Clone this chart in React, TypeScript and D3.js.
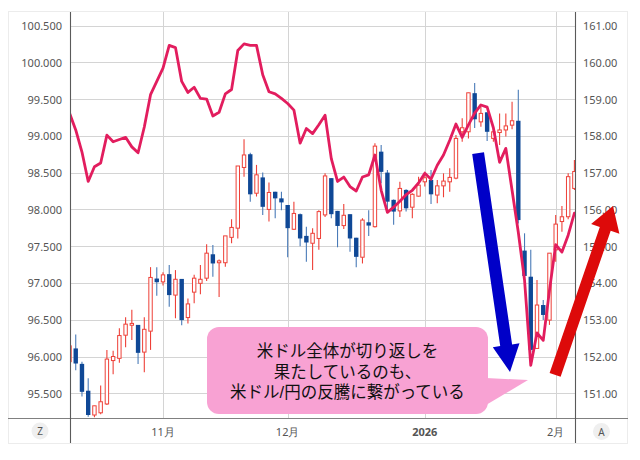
import React from "react";
import * as d3 from "d3";

// ---- data ----
const startDate = "2025-10-13";
const holidays = ["2025-12-25", "2026-01-01"];

// USD/JPY daily candles (right axis)
const open = [151.86,152.22,151.80,151.07,150.41,150.47,150.71,151.89,151.95,152.58,152.85,152.86,152.12,152.69,154.12,154.03,154.24,153.67,154.11,153.06,153.75,153.99,154.13,154.78,154.55,154.55,155.24,155.49,157.14,157.50,156.44,156.87,156.00,156.48,156.30,156.12,155.46,155.87,155.28,155.08,155.21,155.85,156.85,155.96,155.56,155.87,155.23,154.70,155.65,155.53,157.57,157.00,156.26,155.96,156.53,156.06,156.36,156.75,156.80,156.39,156.64,156.75,156.85,158.11,158.11,159.16,158.38,158.64,157.93,158.09,158.16,158.29,158.41,154.88,154.17,152.22,153.40,152.99,154.90,155.67,155.80,156.57];
const high = [152.45,152.60,151.86,151.41,150.66,151.21,152.18,152.16,152.77,153.07,153.27,152.86,153.07,154.43,154.43,154.29,154.49,154.35,154.11,153.58,154.22,154.49,155.05,155.03,154.64,155.28,155.73,157.18,157.91,157.54,157.21,157.00,156.73,156.48,156.48,156.12,156.21,155.89,155.53,155.49,155.98,156.98,156.85,155.96,156.15,155.87,155.23,155.76,155.98,157.80,157.75,157.07,156.27,156.75,156.55,156.44,156.89,157.03,157.07,156.80,156.98,157.12,158.02,158.48,159.17,159.44,158.79,158.64,158.29,158.61,158.61,158.93,159.25,155.35,154.90,154.08,153.54,154.81,155.85,156.09,156.98,157.34];
const low = [151.72,151.63,150.91,150.36,150.35,150.43,150.68,151.52,151.83,152.25,152.45,151.80,151.57,152.18,153.65,153.93,153.35,153.04,152.85,152.90,153.45,153.69,154.05,154.17,153.62,154.44,155.08,155.21,156.89,156.21,156.35,155.85,155.67,155.76,155.98,154.70,155.44,155.00,154.58,154.35,154.90,155.79,155.76,154.97,155.47,154.85,154.43,154.53,155.28,155.51,156.71,155.98,155.58,155.79,155.94,155.76,156.35,156.62,156.15,156.17,156.33,156.48,156.82,157.84,157.93,158.21,158.25,157.86,157.84,157.75,157.98,158.18,155.62,154.13,152.13,152.22,152.99,152.86,154.58,155.39,155.73,156.53];
const close = [152.29,151.81,151.04,150.41,150.66,150.77,151.93,152.00,152.57,152.88,152.90,152.10,152.74,154.15,154.02,154.22,153.67,154.10,152.99,153.43,154.13,154.10,154.81,154.53,154.60,155.28,155.51,157.18,157.48,156.41,156.94,156.07,156.46,156.30,156.19,155.49,155.89,155.21,155.10,155.35,155.94,156.91,155.87,155.55,155.84,155.21,154.71,155.71,155.56,157.72,157.02,156.21,155.94,156.57,156.03,156.41,156.66,156.86,156.41,156.64,156.77,156.87,157.93,158.22,159.17,158.45,158.61,158.11,158.11,158.16,158.27,158.41,155.71,154.19,152.18,153.40,153.13,154.81,155.60,155.80,156.89,157.03];

// US dollar index (left axis)
const dxy = [99.31,99.08,98.78,98.38,98.58,98.63,99.01,98.92,98.95,98.98,98.85,98.77,99.12,99.56,99.74,99.92,100.23,100.20,99.74,99.59,99.66,99.51,99.50,99.27,99.32,99.57,99.63,100.16,100.25,100.23,100.23,99.83,99.60,99.57,99.51,99.44,99.35,98.90,99.10,99.03,99.15,99.28,98.69,98.38,98.44,98.31,98.25,98.44,98.47,98.74,98.26,97.96,98.03,98.11,98.20,98.26,98.36,98.49,98.41,98.60,98.74,98.94,99.16,98.98,99.15,99.31,99.42,99.39,99.11,98.64,98.83,98.26,97.69,97.04,95.88,96.32,96.22,96.90,97.52,97.42,97.65,97.95];

const leftTicks = [95.5, 96, 96.5, 97, 97.5, 98, 98.5, 99, 99.5, 100, 100.5];
const rightTicks = [151, 152, 153, 154, 155, 156, 157, 158, 159, 160, 161];

const calloutLines = ["米ドル全体が切り返しを", "果たしているのも、", "米ドル/円の反騰に繋がっている"];

// ---- helpers ----
function tradingDays(start: string, n: number, hol: string[]) {
  const out: Date[] = [];
  let d = new Date(start + "T00:00:00Z");
  while (out.length < n) {
    const wd = d.getUTCDay();
    const iso = d.toISOString().slice(0, 10);
    if (wd !== 0 && wd !== 6 && !hol.includes(iso)) out.push(new Date(d));
    d = new Date(d.getTime() + 86400000);
  }
  return out;
}

function arrowPath(s: [number, number], t: [number, number], w: number, hl: number, hw: number) {
  const dx = t[0] - s[0], dy = t[1] - s[1];
  const len = Math.hypot(dx, dy);
  const ux = dx / len, uy = dy / len;
  const nx = -uy, ny = ux;
  const bx = t[0] - ux * hl, by = t[1] - uy * hl;
  const pts = [
    [s[0] + nx * w, s[1] + ny * w],
    [bx + nx * w, by + ny * w],
    [bx + nx * hw, by + ny * hw],
    [t[0], t[1]],
    [bx - nx * hw, by - ny * hw],
    [bx - nx * w, by - ny * w],
    [s[0] - nx * w, s[1] - ny * w],
  ];
  return "M" + pts.map((p) => p[0].toFixed(1) + "," + p[1].toFixed(1)).join("L") + "Z";
}

export default function App() {
  const W = 640, H = 460;
  const frame = { l: 8, r: 628, t: 12, b: 443 };
  const plot = { l: 70, r: 575, t: 12, b: 418 };
  const n = open.length;
  const dates = tradingDays(startDate, n, holidays);

  const x = d3.scaleLinear().domain([0, n - 1]).range([69.5, 574.4]);
  const yR = d3.scaleLinear().domain([151, 161]).range([393.3, 25.5]);
  const yL = d3.scaleLinear().domain([95.5, 100.5]).range([393.3, 25.5]);

  const monthTicks: { i: number; label: string; bold: boolean }[] = [];
  dates.forEach((d, i) => {
    if (i === 0) return;
    if (d.getUTCMonth() !== dates[i - 1].getUTCMonth()) {
      const m = d.getUTCMonth();
      monthTicks.push({ i, label: m === 0 ? String(d.getUTCFullYear()) : `${m + 1}月`, bold: m === 0 });
    }
  });

  const line = d3.line<number>().x((_, i) => x(i)).y((v) => yL(v));
  const fmtL = d3.format(".3f");
  const fmtR = d3.format(".2f");

  const RED = "#ee4038";
  const BLUE = "#0f4896";
  const BLUE_WICK = "#4a7bb8";
  const PINK_LINE = "#e21d5e";
  const bw = 4.4;

  const font = "'Noto Sans', 'Open Sans', sans-serif";
  const jp = "'Liberation Sans', 'Noto Sans CJK JP', sans-serif";

  const blueArrow = arrowPath([x(65.55), yR(157.53)], [x(70.67), yR(151.58)], 6, 27, 13.5);
  const redArrow = arrowPath([x(77.9), yR(151.5)], [x(87.2), yR(156.09)], 5.8, 24, 15);

  const box = { l: 207, r: 488, t: 327, b: 414 };
  const cx = (box.l + box.r) / 2;

  return (
    <svg width={W} height={H} style={{ position: "absolute", left: 0, top: 0, background: "#fff" }}>
      <defs>
        <clipPath id="plotclip">
          <rect x={plot.l} y={plot.t} width={plot.r - plot.l} height={plot.b - plot.t} />
        </clipPath>
      </defs>
      <rect x={frame.l + 0.5} y={frame.t - 0.5} width={frame.r - frame.l - 1} height={frame.b - frame.t + 1} fill="#fff" stroke="#ececec" />

      {/* horizontal grid */}
      {leftTicks.map((t) => (
        <line key={"g" + t} x1={plot.l} x2={plot.r} y1={Math.round(yL(t)) + 0.5} y2={Math.round(yL(t)) + 0.5} stroke="#d4d4d4" />
      ))}
      {/* vertical grid */}
      {monthTicks.map((m) => (
        <line key={"v" + m.i} x1={Math.round(x(m.i)) + 0.5} x2={Math.round(x(m.i)) + 0.5} y1={plot.t} y2={plot.b} stroke="#d4d4d4" />
      ))}

      <g clipPath="url(#plotclip)">
        {/* candles */}
        {open.map((o, i) => {
          const c = close[i];
          const up = c >= o;
          const cxp = x(i);
          const top = yR(Math.max(o, c));
          const bot = yR(Math.min(o, c));
          const h = Math.max(1, bot - top);
          return (
            <g key={"c" + i}>
              <line x1={cxp} x2={cxp} y1={yR(high[i])} y2={yR(low[i])} stroke={up ? RED : BLUE_WICK} strokeWidth={1.1} />
              {up ? (
                <rect x={cxp - bw / 2 + 0.5} y={top} width={bw - 1} height={h} fill="#fff" stroke={RED} strokeWidth={1} />
              ) : (
                <rect x={cxp - bw / 2} y={top} width={bw} height={h} fill={BLUE} />
              )}
            </g>
          );
        })}
        {/* dollar index line */}
        <path d={line(dxy) || ""} fill="none" stroke={PINK_LINE} strokeWidth={2.8} strokeLinejoin="round" strokeLinecap="round" />
      </g>

      {/* axes lines */}
      <line x1={frame.l} x2={frame.r} y1={plot.b + 0.5} y2={plot.b + 0.5} stroke="#808080" strokeWidth={1.2} />
      <line x1={plot.l + 0.5} x2={plot.l + 0.5} y1={frame.t} y2={frame.b} stroke="#5a5a5a" strokeWidth={1.1} />
      <line x1={plot.r + 0.5} x2={plot.r + 0.5} y1={frame.t} y2={frame.b} stroke="#5a5a5a" strokeWidth={1.1} />

      {/* left axis labels */}
      {leftTicks.map((t) => (
        <text key={"l" + t} x={62} y={yL(t)} dominantBaseline="central" textAnchor="end" fontFamily={font} fontSize={11} fill="#555">
          {fmtL(t)}
        </text>
      ))}
      {/* right axis labels */}
      {rightTicks.map((t) => (
        <text key={"r" + t} x={583} y={yR(t)} dominantBaseline="central" textAnchor="start" fontFamily={font} fontSize={11} fill="#555">
          {fmtR(t)}
        </text>
      ))}
      {/* x axis labels */}
      {monthTicks.map((m) => (
        <text key={"x" + m.i} x={x(m.i)} y={431} dominantBaseline="central" textAnchor="middle" fontFamily={font} fontSize={11} fontWeight={m.bold ? 700 : 400} fill="#555">
          {m.label}
        </text>
      ))}

      {/* Z / A buttons */}
      <circle cx={40} cy={431} r={8.5} fill="#efefef" />
      <text x={40} y={431} dominantBaseline="central" textAnchor="middle" fontFamily={font} fontSize={10} fill="#555">Z</text>
      <circle cx={601.5} cy={431.5} r={8.5} fill="#efefef" />
      <text x={601.5} y={431.5} dominantBaseline="central" textAnchor="middle" fontFamily={font} fontSize={10} fill="#555">A</text>

      {/* callout */}
      <rect x={box.l} y={box.t} width={box.r - box.l} height={box.b - box.t} rx={12} ry={12} fill="#f8a2d3" />
      <path d={`M${box.r - 2},378 L528,380 L${box.r - 2},405 Z`} fill="#f8a2d3" />
      {calloutLines.map((s, k) => (
        <text key={"t" + k} x={cx} y={351 + k * 20.5} dominantBaseline="central" textAnchor="middle" fontFamily={jp} fontSize={16.5} fill="#111">
          {s}
        </text>
      ))}

      {/* arrows */}
      <path d={blueArrow} fill="#0000c8" />
      <path d={redArrow} fill="#dd0a0a" />
    </svg>
  );
}
